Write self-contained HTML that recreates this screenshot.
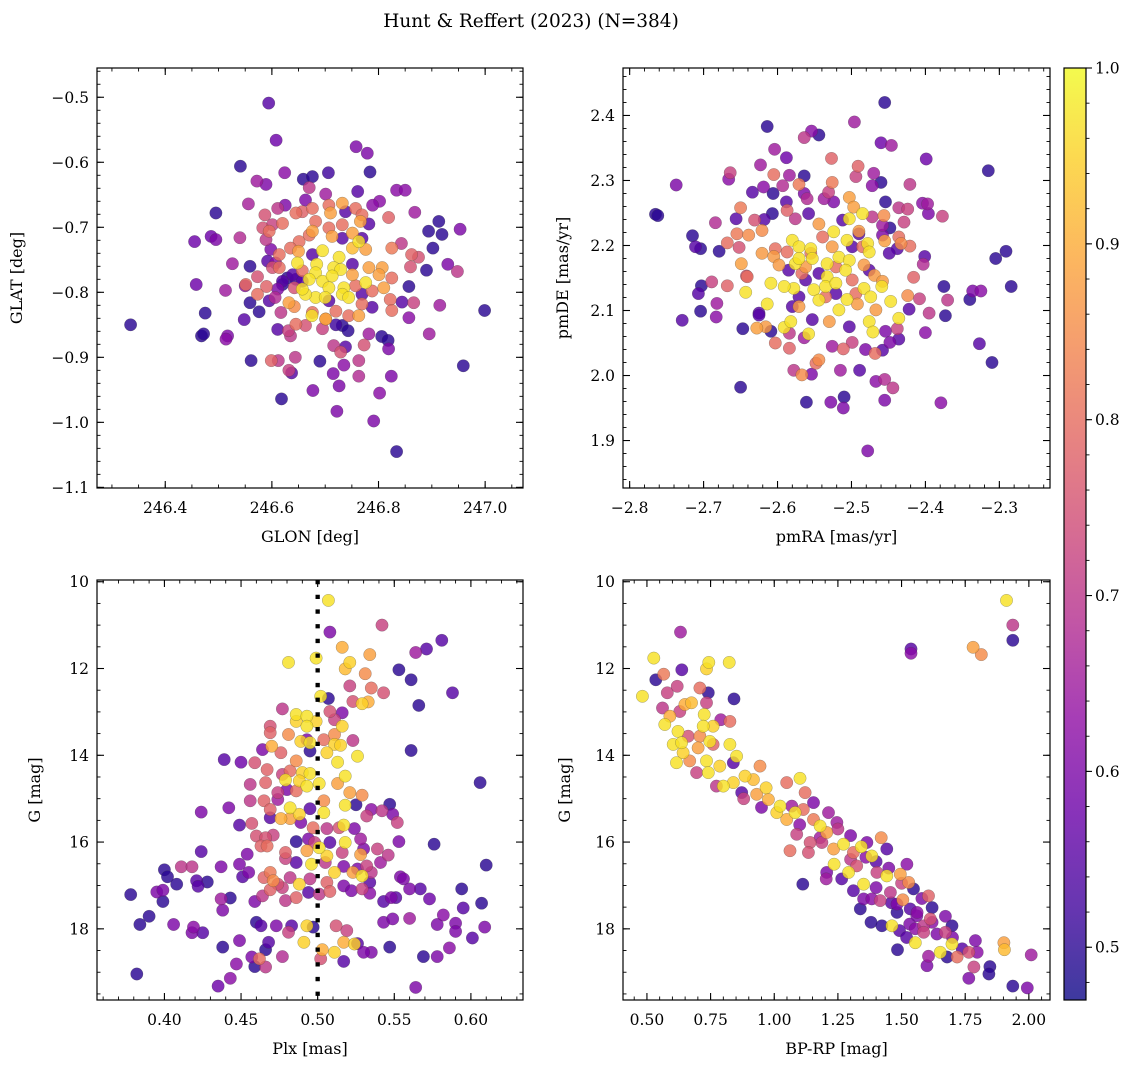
<!DOCTYPE html>
<html><head><meta charset="utf-8">
<style>
html,body{margin:0;padding:0;background:#fff;}
svg{display:block;font-family:"DejaVu Serif","Liberation Serif",serif;}
</style></head>
<body>
<svg id="fig" width="1136" height="1067" viewBox="0 0 1136 1067" xmlns="http://www.w3.org/2000/svg">
<rect width="1136" height="1067" fill="#fff"/>
<text x="531" y="27" font-size="18.5" text-anchor="middle">Hunt &amp; Reffert (2023) (N=384)</text>
</svg>
<script>
// ---- data: [x, y, membership probability] ----
const glonGlat = [
[246.335,-0.850,0.5],[246.594,-0.509,0.55],[246.608,-0.566,0.58],[246.758,-0.576,0.6],[246.779,-0.586,0.6],[246.541,-0.606,0.5],[246.784,-0.615,0.5],[246.624,-0.616,0.62],[246.659,-0.626,0.5],[246.676,-0.622,0.5],[246.706,-0.616,0.52],[246.572,-0.629,0.65],[246.589,-0.634,0.6],[246.834,-0.643,0.62],[246.850,-0.643,0.62],[246.761,-0.645,0.55],[246.701,-0.649,0.65],[246.670,-0.639,0.7],[246.556,-0.664,0.66],[246.495,-0.678,0.5],[246.625,-0.666,0.6],[246.611,-0.671,0.7],[246.802,-0.660,0.62],[246.789,-0.666,0.62],[246.868,-0.677,0.65],[246.913,-0.691,0.5],[246.953,-0.703,0.6],[246.894,-0.706,0.5],[246.919,-0.711,0.5],[246.819,-0.685,0.78],[246.587,-0.681,0.75],[246.455,-0.722,0.58],[246.486,-0.714,0.58],[246.495,-0.719,0.6],[246.540,-0.716,0.68],[246.902,-0.732,0.5],[246.843,-0.725,0.7],[246.825,-0.732,0.82],[246.862,-0.742,0.78],[246.875,-0.746,0.75],[246.930,-0.757,0.6],[246.948,-0.768,0.7],[246.890,-0.766,0.5],[246.526,-0.756,0.65],[246.559,-0.760,0.5],[246.860,-0.761,0.75],[246.825,-0.778,0.8],[246.857,-0.791,0.5],[246.458,-0.788,0.58],[246.513,-0.797,0.65],[246.550,-0.790,0.62],[246.559,-0.816,0.5],[246.576,-0.830,0.5],[246.475,-0.832,0.5],[246.468,-0.867,0.5],[246.472,-0.864,0.5],[246.514,-0.872,0.62],[246.517,-0.867,0.6],[246.548,-0.842,0.55],[246.999,-0.828,0.5],[246.915,-0.820,0.65],[246.866,-0.816,0.72],[246.844,-0.815,0.55],[246.857,-0.839,0.62],[246.895,-0.864,0.65],[246.959,-0.913,0.5],[246.611,-0.857,0.55],[246.635,-0.867,0.7],[246.631,-0.859,0.72],[246.644,-0.900,0.7],[246.599,-0.905,0.78],[246.612,-0.905,0.7],[246.561,-0.905,0.5],[246.632,-0.920,0.72],[246.637,-0.924,0.55],[246.618,-0.964,0.5],[246.690,-0.906,0.5],[246.677,-0.951,0.6],[246.715,-0.925,0.6],[246.726,-0.944,0.6],[246.735,-0.912,0.62],[246.763,-0.905,0.7],[246.763,-0.929,0.68],[246.824,-0.929,0.6],[246.802,-0.955,0.62],[246.722,-0.983,0.6],[246.791,-0.998,0.6],[246.834,-1.045,0.5],[246.806,-0.868,0.5],[246.818,-0.874,0.5],[246.819,-0.887,0.6],[246.782,-0.864,0.65],[246.773,-0.881,0.75],[246.738,-0.884,0.55],[246.729,-0.892,0.75],[246.716,-0.882,0.7],[246.732,-0.851,0.5],[246.743,-0.859,0.5],[246.720,-0.850,0.52],[246.663,-0.851,0.75],[246.695,-0.856,0.72],[246.701,-0.841,0.88],[246.675,-0.836,0.97],[246.632,-0.816,0.88],[246.642,-0.822,0.85],[246.617,-0.831,0.7],[246.606,-0.808,0.68],[246.611,-0.795,0.6],[246.620,-0.788,0.5],[246.629,-0.778,0.5],[246.645,-0.780,0.52],[246.642,-0.793,0.75],[246.573,-0.776,0.75],[246.590,-0.791,0.78],[246.601,-0.762,0.75],[246.592,-0.752,0.55],[246.607,-0.755,0.62],[246.598,-0.734,0.6],[246.583,-0.701,0.75],[246.601,-0.696,0.72],[246.589,-0.719,0.7],[246.663,-0.658,0.6],[246.657,-0.676,0.78],
[246.648,-0.755,0.97],[246.684,-0.757,0.97],[246.695,-0.736,0.97],[246.726,-0.746,0.97],[246.716,-0.762,0.97],[246.729,-0.765,0.97],[246.682,-0.770,0.97],[246.670,-0.780,0.97],[246.695,-0.783,0.97],[246.713,-0.775,0.97],[246.735,-0.793,0.97],[246.707,-0.793,0.97],[246.732,-0.803,0.97],[246.682,-0.808,0.97],[246.663,-0.803,0.97],[246.657,-0.795,0.97],[246.744,-0.808,0.97],[246.700,-0.808,0.97],[246.776,-0.785,0.97],[246.763,-0.722,0.97],[246.751,-0.732,0.92],
[246.676,-0.706,0.88],[246.710,-0.678,0.88],[246.732,-0.663,0.88],[246.766,-0.691,0.88],[246.751,-0.709,0.88],[246.776,-0.734,0.88],[246.782,-0.762,0.88],[246.807,-0.762,0.88],[246.810,-0.793,0.88],[246.763,-0.836,0.88],[246.701,-0.841,0.88],[246.650,-0.737,0.88],[246.713,-0.714,0.88],[246.751,-0.773,0.88],[246.801,-0.773,0.88],
[246.595,-0.706,0.8],[246.620,-0.694,0.8],[246.645,-0.678,0.8],[246.676,-0.671,0.8],[246.707,-0.666,0.8],[246.757,-0.671,0.8],[246.769,-0.681,0.8],[246.732,-0.696,0.8],[246.651,-0.722,0.8],[246.614,-0.742,0.8],[246.635,-0.732,0.8],[246.670,-0.712,0.8],[246.682,-0.691,0.8],[246.788,-0.798,0.8],[246.822,-0.811,0.8],[246.825,-0.828,0.8],[246.720,-0.829,0.8],[246.744,-0.836,0.8],[246.645,-0.849,0.8],[246.676,-0.831,0.8],[246.769,-0.818,0.8],[246.757,-0.790,0.8],[246.614,-0.762,0.8],[246.657,-0.767,0.8],[246.707,-0.701,0.8],[246.551,-0.788,0.8],[246.573,-0.803,0.8],
[246.738,-0.676,0.55],[246.782,-0.695,0.55],[246.769,-0.717,0.55],[246.732,-0.717,0.55],[246.751,-0.757,0.55],[246.769,-0.803,0.55],[246.788,-0.823,0.55],[246.639,-0.773,0.55],[246.657,-0.783,0.55],[246.620,-0.783,0.55],[246.707,-0.813,0.55],[246.595,-0.813,0.55],[246.676,-0.742,0.55]
];
const pmRaDe = [
[-2.455,2.420,0.5],[-2.496,2.390,0.65],[-2.614,2.383,0.5],[-2.554,2.376,0.62],[-2.544,2.370,0.5],[-2.564,2.366,0.7],[-2.460,2.358,0.58],[-2.446,2.354,0.65],[-2.604,2.348,0.65],[-2.588,2.335,0.58],[-2.527,2.334,0.78],[-2.399,2.333,0.58],[-2.315,2.315,0.5],[-2.623,2.324,0.65],[-2.664,2.312,0.72],[-2.666,2.302,0.62],[-2.605,2.309,0.8],[-2.584,2.308,0.65],[-2.564,2.307,0.5],[-2.737,2.293,0.6],[-2.491,2.322,0.78],[-2.494,2.306,0.72],[-2.470,2.311,0.65],[-2.460,2.297,0.5],[-2.472,2.292,0.62],[-2.421,2.294,0.7],[-2.634,2.282,0.55],[-2.619,2.290,0.62],[-2.606,2.280,0.5],[-2.593,2.292,0.68],[-2.571,2.294,0.82],[-2.564,2.280,0.6],[-2.526,2.297,0.82],[-2.531,2.282,0.72],[-2.537,2.272,0.65],[-2.560,2.272,0.68],[-2.765,2.248,0.5],[-2.762,2.246,0.5],[-2.650,2.258,0.82],[-2.656,2.241,0.55],[-2.631,2.239,0.75],[-2.618,2.240,0.55],[-2.607,2.249,0.5],[-2.588,2.267,0.55],[-2.587,2.254,0.78],[-2.576,2.241,0.7],[-2.558,2.249,0.55],[-2.524,2.267,0.6],[-2.503,2.274,0.88],[-2.497,2.259,0.88],[-2.454,2.267,0.5],[-2.436,2.258,0.7],[-2.424,2.256,0.72],[-2.404,2.265,0.62],[-2.397,2.264,0.65],[-2.396,2.249,0.6],[-2.377,2.245,0.72],[-2.456,2.246,0.85],[-2.458,2.231,0.65],[-2.472,2.244,0.7],[-2.448,2.227,0.5],[-2.429,2.236,0.72],[-2.684,2.235,0.68],[-2.715,2.215,0.5],[-2.711,2.198,0.55],[-2.704,2.195,0.5],[-2.679,2.191,0.5],[-2.668,2.204,0.8],[-2.655,2.218,0.82],[-2.652,2.197,0.75],[-2.639,2.216,0.85],[-2.621,2.223,0.85],[-2.649,2.172,0.88],[-2.642,2.153,0.75],[-2.291,2.191,0.5],[-2.305,2.180,0.5],[-2.284,2.137,0.5],[-2.375,2.137,0.5],[-2.336,2.130,0.6],[-2.325,2.130,0.62],[-2.340,2.117,0.5],[-2.370,2.116,0.7],[-2.373,2.092,0.5],[-2.395,2.096,0.7],[-2.400,2.066,0.62],[-2.327,2.049,0.55],[-2.310,2.020,0.5],[-2.379,1.958,0.62],[-2.401,2.183,0.55],[-2.403,2.171,0.68],[-2.416,2.151,0.78],[-2.424,2.123,0.85],[-2.408,2.118,0.72],[-2.422,2.102,0.55],[-2.436,2.213,0.8],[-2.433,2.203,0.85],[-2.421,2.199,0.8],[-2.438,2.195,0.55],[-2.455,2.207,0.88],[-2.458,2.216,0.6],[-2.689,2.144,0.72],[-2.703,2.138,0.5],[-2.707,2.126,0.55],[-2.668,2.138,0.78],[-2.682,2.111,0.65],[-2.704,2.099,0.5],[-2.729,2.085,0.55],[-2.683,2.090,0.62],[-2.647,2.072,0.5],[-2.628,2.073,0.88],[-2.625,2.096,0.55],[-2.609,2.068,0.5],[-2.603,2.050,0.8],[-2.584,2.042,0.78],[-2.650,1.982,0.5],[-2.578,2.008,0.7],[-2.567,2.001,0.85],[-2.561,1.959,0.5],[-2.554,2.002,0.6],[-2.544,2.024,0.85],[-2.548,2.019,0.8],[-2.528,1.959,0.6],[-2.510,1.967,0.5],[-2.511,1.950,0.6],[-2.515,2.008,0.65],[-2.489,2.008,0.55],[-2.467,1.991,0.62],[-2.455,1.994,0.68],[-2.444,1.981,0.7],[-2.455,1.962,0.6],[-2.478,1.884,0.6],[-2.468,2.034,0.8],[-2.481,2.040,0.6],[-2.454,2.068,0.6],[-2.438,2.072,0.72],[-2.436,2.056,0.55],[-2.448,2.051,0.6],[-2.458,2.039,0.55],[-2.511,2.041,0.78],[-2.526,2.045,0.65],[-2.499,2.051,0.72],[-2.584,2.065,0.7],[-2.564,2.058,0.65],
[-2.580,2.208,0.97],[-2.571,2.198,0.97],[-2.555,2.195,0.97],[-2.576,2.172,0.97],[-2.553,2.180,0.97],[-2.533,2.172,0.97],[-2.517,2.182,0.97],[-2.524,2.221,0.97],[-2.503,2.241,0.97],[-2.485,2.249,0.97],[-2.503,2.177,0.97],[-2.533,2.152,0.97],[-2.535,2.137,0.97],[-2.551,2.132,0.97],[-2.544,2.116,0.97],[-2.521,2.142,0.97],[-2.508,2.162,0.97],[-2.578,2.134,0.97],[-2.591,2.137,0.97],[-2.609,2.142,0.97],[-2.643,2.128,0.97],[-2.614,2.110,0.97],[-2.591,2.074,0.97],[-2.582,2.083,0.97],[-2.558,2.064,0.97],[-2.517,2.101,0.97],[-2.506,2.117,0.97],[-2.483,2.134,0.97],[-2.474,2.121,0.97],[-2.459,2.137,0.97],[-2.447,2.114,0.97],[-2.436,2.088,0.97],[-2.476,2.083,0.97],[-2.471,2.067,0.97],[-2.478,2.203,0.97],[-2.476,2.190,0.97],[-2.506,2.208,0.97],[-2.571,2.180,0.97],
[-2.621,2.188,0.87],[-2.605,2.183,0.87],[-2.598,2.170,0.87],[-2.562,2.167,0.87],[-2.544,2.233,0.87],[-2.490,2.222,0.87],[-2.483,2.170,0.87],[-2.469,2.154,0.87],[-2.458,2.145,0.87],[-2.492,2.110,0.87],[-2.467,2.101,0.87],[-2.530,2.083,0.87],[-2.616,2.075,0.87],[-2.571,2.106,0.87],[-2.526,2.198,0.87],
[-2.641,2.152,0.8],[-2.603,2.195,0.8],[-2.587,2.190,0.8],[-2.535,2.121,0.8],[-2.499,2.147,0.8],[-2.521,2.167,0.8],[-2.567,2.157,0.8],[-2.485,2.198,0.8],[-2.539,2.213,0.8],[-2.494,2.126,0.8],[-2.555,2.188,0.8],
[-2.585,2.162,0.55],[-2.562,2.147,0.55],[-2.544,2.157,0.55],[-2.512,2.239,0.55],[-2.499,2.198,0.55],[-2.521,2.126,0.55],[-2.571,2.121,0.55],[-2.503,2.075,0.55],[-2.553,2.086,0.55],[-2.625,2.093,0.55],[-2.580,2.106,0.55],[-2.449,2.188,0.55],[-2.476,2.162,0.55],[-2.490,2.218,0.55]
];
const plxG = [
[0.507,10.43,0.97],[0.508,11.16,0.6],[0.542,11.00,0.72],[0.581,11.35,0.55],[0.571,11.55,0.55],[0.564,11.63,0.65],[0.516,11.51,0.9],[0.534,11.68,0.88],[0.521,11.86,0.95],[0.518,12.01,0.92],[0.481,11.86,0.97],[0.499,11.76,0.97],[0.553,12.03,0.5],[0.561,12.26,0.5],[0.531,12.12,0.85],[0.521,12.40,0.72],[0.535,12.45,0.8],[0.543,12.56,0.75],[0.588,12.56,0.55],[0.566,12.85,0.5],[0.502,12.64,0.97],[0.507,12.69,0.5],[0.529,12.81,0.95],[0.533,12.77,0.9],[0.523,12.76,0.75],[0.477,12.93,0.7],[0.486,13.06,0.97],[0.493,13.10,0.97],[0.486,13.22,0.95],[0.493,13.33,0.97],[0.499,13.22,0.95],[0.508,12.99,0.75],[0.516,13.02,0.6],[0.511,13.18,0.72],[0.516,13.33,0.95],[0.469,13.48,0.78],[0.469,13.33,0.75],[0.481,13.52,0.85],[0.493,13.64,0.6],[0.489,13.68,0.95],[0.495,13.71,0.97],[0.504,13.64,0.8],[0.511,13.52,0.85],[0.511,13.75,0.95],[0.515,13.77,0.95],[0.523,13.66,0.7],[0.526,14.02,0.97],[0.561,13.89,0.5],[0.464,13.87,0.6],[0.470,13.79,0.9],[0.476,13.94,0.78],[0.486,14.13,0.85],[0.495,13.90,0.5],[0.506,13.94,0.95],[0.513,14.16,0.97],[0.439,14.10,0.55],[0.450,14.16,0.58],[0.459,14.17,0.75],[0.467,14.33,0.78],[0.477,14.44,0.72],[0.482,14.36,0.8],[0.490,14.40,0.95],[0.495,14.42,0.97],[0.488,14.59,0.95],[0.479,14.57,0.97],[0.493,14.71,0.97],[0.501,14.65,0.97],[0.513,14.65,0.88],[0.518,14.48,0.97],[0.521,14.86,0.88],[0.529,14.92,0.85],[0.606,14.63,0.5],[0.456,14.67,0.7],[0.466,14.63,0.78],[0.474,14.86,0.72],[0.480,14.79,0.6],[0.486,14.82,0.8],[0.424,15.31,0.6],[0.442,15.21,0.6],[0.456,15.05,0.7],[0.465,15.05,0.78],[0.469,15.25,0.78],[0.474,15.02,0.65],[0.482,15.21,0.97],[0.488,15.36,0.95],[0.495,15.23,0.55],[0.504,15.05,0.85],[0.504,15.32,0.97],[0.518,15.15,0.97],[0.525,15.14,0.5],[0.535,15.25,0.62],[0.542,15.28,0.7],[0.547,15.13,0.5],[0.549,15.36,0.6],[0.449,15.61,0.55],[0.457,15.57,0.75],[0.469,15.44,0.55],[0.476,15.46,0.9],[0.482,15.46,0.88],[0.489,15.55,0.6],[0.497,15.67,0.8],[0.506,15.69,0.7],[0.514,15.67,0.75],[0.517,15.61,0.97],[0.524,15.69,0.6],[0.532,15.40,0.72],[0.552,15.55,0.72],[0.460,15.86,0.75],[0.466,15.90,0.75],[0.471,15.84,0.72],[0.463,16.09,0.78],[0.467,16.09,0.8],[0.486,15.99,0.5],[0.494,15.93,0.6],[0.498,16.01,0.72],[0.508,16.01,0.55],[0.518,16.01,0.97],[0.528,15.93,0.65],[0.530,16.16,0.6],[0.539,16.16,0.72],[0.553,15.99,0.6],[0.576,16.05,0.5],[0.424,16.22,0.55],[0.454,16.28,0.6],[0.479,16.24,0.78],[0.493,16.20,0.88],[0.501,16.13,0.97],[0.506,16.32,0.95],[0.516,16.24,0.72],[0.528,16.29,0.88],[0.546,16.30,0.7],[0.610,16.53,0.5],[0.400,16.64,0.5],[0.411,16.57,0.7],[0.418,16.57,0.7],[0.437,16.57,0.6],[0.449,16.51,0.6],[0.479,16.38,0.72],[0.486,16.47,0.55],[0.496,16.51,0.97],[0.505,16.47,0.7],[0.517,16.56,0.6],[0.526,16.62,0.6],[0.532,16.55,0.72],[0.541,16.47,0.65],[0.402,16.80,0.5],[0.408,16.97,0.5],[0.421,16.89,0.55],[0.428,16.92,0.5],[0.422,17.02,0.55],[0.451,16.80,0.55],[0.455,16.70,0.6],[0.465,16.82,0.78],[0.469,16.70,0.82],[0.471,16.89,0.85],[0.474,16.97,0.75],[0.482,16.82,0.7],[0.488,16.97,0.95],[0.495,16.85,0.7],[0.506,16.93,0.78],[0.511,16.70,0.95],[0.523,16.70,0.88],[0.529,16.78,0.97],[0.535,16.70,0.7],[0.534,16.93,0.55],[0.554,16.80,0.6],[0.556,16.85,0.6],[0.378,17.21,0.5],[0.395,17.15,0.6],[0.399,17.11,0.6],[0.399,17.37,0.5],[0.437,17.31,0.65],[0.438,17.57,0.6],[0.443,17.29,0.5],[0.459,17.37,0.6],[0.464,17.24,0.7],[0.469,17.10,0.78],[0.477,17.05,0.72],[0.479,17.35,0.7],[0.486,17.28,0.78],[0.494,17.16,0.55],[0.501,17.20,0.7],[0.508,17.14,0.78],[0.517,17.01,0.6],[0.522,17.12,0.6],[0.529,17.08,0.72],[0.534,17.18,0.62],[0.543,17.37,0.55],[0.548,17.28,0.6],[0.551,17.28,0.55],[0.560,17.08,0.6],[0.567,17.08,0.55],[0.573,17.31,0.58],[0.594,17.08,0.5],[0.607,17.41,0.5],[0.384,17.90,0.5],[0.390,17.71,0.5],[0.406,17.90,0.6],[0.418,18.09,0.6],[0.419,17.96,0.62],[0.425,18.09,0.55],[0.449,18.27,0.6],[0.438,18.42,0.5],[0.460,17.85,0.5],[0.463,17.93,0.55],[0.468,18.31,0.55],[0.466,18.48,0.5],[0.473,17.93,0.6],[0.481,18.08,0.72],[0.483,17.93,0.55],[0.491,18.31,0.95],[0.493,17.93,0.95],[0.497,17.96,0.5],[0.503,18.48,0.9],[0.511,18.54,0.95],[0.512,17.93,0.75],[0.517,18.31,0.9],[0.519,18.04,0.72],[0.524,18.35,0.95],[0.526,18.34,0.55],[0.535,18.54,0.6],[0.543,17.85,0.6],[0.547,18.42,0.5],[0.549,17.77,0.6],[0.560,17.76,0.65],[0.569,18.64,0.5],[0.578,18.64,0.6],[0.578,17.90,0.6],[0.582,17.68,0.62],[0.586,18.44,0.62],[0.590,17.87,0.6],[0.590,18.06,0.6],[0.595,17.52,0.55],[0.601,18.21,0.55],[0.609,17.96,0.6],[0.382,19.04,0.5],[0.435,19.32,0.58],[0.443,19.14,0.62],[0.447,18.81,0.62],[0.457,18.65,0.6],[0.459,18.87,0.5],[0.462,18.69,0.8],[0.466,18.88,0.7],[0.477,18.64,0.68],[0.502,18.69,0.75],[0.517,18.75,0.55],[0.530,18.54,0.6],[0.564,19.35,0.6]
];
const bprpG = [
[1.912,10.43,0.97],[1.937,11.00,0.7],[1.937,11.35,0.5],[1.537,11.55,0.55],[1.537,11.65,0.62],[1.781,11.51,0.88],[1.813,11.68,0.85],[0.632,11.16,0.65],[0.527,11.76,0.97],[0.743,11.86,0.97],[0.734,12.01,0.95],[0.823,11.86,0.97],[0.637,12.03,0.55],[0.566,12.13,0.82],[0.535,12.26,0.5],[0.482,12.64,0.97],[0.580,12.56,0.72],[0.619,12.41,0.72],[0.708,12.45,0.8],[0.741,12.56,0.5],[0.734,12.79,0.72],[0.842,12.70,0.5],[0.561,12.91,0.7],[0.649,12.83,0.9],[0.675,12.79,0.92],[0.590,13.10,0.9],[0.570,13.29,0.97],[0.629,12.99,0.72],[0.725,13.06,0.97],[0.790,13.18,0.65],[0.826,13.22,0.8],[0.760,13.33,0.95],[0.721,13.33,0.97],[0.622,13.45,0.97],[0.662,13.56,0.75],[0.708,13.56,0.85],[0.747,13.68,0.97],[0.603,13.75,0.97],[0.636,13.71,0.97],[0.642,13.94,0.95],[0.701,13.83,0.88],[0.760,13.75,0.78],[0.826,13.75,0.97],[0.852,14.02,0.97],[0.616,14.17,0.97],[0.668,14.13,0.85],[0.734,14.13,0.97],[0.786,14.25,0.95],[0.839,14.17,0.55],[0.695,14.40,0.72],[0.741,14.40,0.97],[0.773,14.71,0.7],[0.800,14.71,0.97],[0.839,14.63,0.95],[0.885,14.48,0.95],[0.918,14.56,0.92],[0.944,14.25,0.85],[0.872,14.86,0.55],[0.931,14.90,0.88],[0.968,14.75,0.95],[0.977,15.02,0.9],[1.023,15.17,0.97],[1.010,15.32,0.95],[1.049,14.63,0.8],[1.101,14.53,0.97],[1.082,15.32,0.97],[1.049,15.48,0.9],[1.121,14.86,0.8],[1.069,15.17,0.65],[1.114,15.25,0.8],[1.154,15.09,0.6],[1.213,15.32,0.65],[1.180,15.63,0.97],[1.154,15.48,0.82],[1.206,15.78,0.88],[1.246,15.55,0.65],[1.088,15.82,0.72],[1.141,16.01,0.75],[1.062,16.20,0.8],[1.134,16.24,0.75],[1.187,16.01,0.72],[1.233,16.16,0.88],[1.272,16.05,0.97],[1.311,16.24,0.8],[1.342,16.11,0.97],[1.383,16.32,0.97],[1.420,15.90,0.85],[1.364,16.01,0.6],[1.442,16.16,0.55],[1.235,16.51,0.97],[1.292,16.70,0.97],[1.324,16.55,0.75],[1.265,16.85,0.55],[1.206,16.70,0.6],[1.204,16.85,0.65],[1.351,16.97,0.97],[1.403,16.70,0.72],[1.442,16.78,0.97],[1.495,16.74,0.88],[1.521,16.51,0.62],[1.547,17.08,0.5],[1.528,16.93,0.85],[1.112,16.97,0.5],[1.311,17.12,0.55],[1.351,17.31,0.6],[1.383,17.31,0.62],[1.416,17.35,0.72],[1.456,17.16,0.7],[1.482,17.43,0.6],[1.505,17.33,0.85],[1.482,17.62,0.5],[1.534,17.54,0.55],[1.561,17.62,0.62],[1.606,17.24,0.78],[1.620,17.51,0.5],[1.338,17.54,0.5],[1.380,17.85,0.5],[1.423,17.93,0.5],[1.462,17.93,0.97],[1.492,18.04,0.55],[1.532,17.89,0.6],[1.554,18.00,0.62],[1.587,17.93,0.7],[1.613,17.77,0.75],[1.672,17.71,0.6],[1.698,17.93,0.5],[1.587,18.08,0.72],[1.639,18.12,0.6],[1.672,18.08,0.72],[1.554,18.32,0.97],[1.484,18.48,0.5],[1.698,18.35,0.97],[1.652,18.54,0.97],[1.679,18.65,0.5],[1.718,18.65,0.8],[1.738,18.46,0.55],[1.764,18.54,0.75],[1.790,18.27,0.6],[1.797,18.54,0.62],[1.784,18.88,0.72],[1.606,18.63,0.65],[1.600,18.85,0.6],[1.764,19.14,0.6],[1.847,18.87,0.5],[1.843,19.04,0.5],[1.902,18.32,0.88],[1.904,18.48,0.92],[2.009,18.60,0.65],[1.937,19.32,0.5],[1.994,19.36,0.6],
[1.25,15.70,0.7],[1.30,15.85,0.6],[1.36,16.35,0.62],[1.40,16.45,0.55],[1.45,16.60,0.6],[1.50,16.95,0.72],[1.40,17.05,0.6],[1.46,17.40,0.55],[1.58,17.30,0.6],[1.62,17.85,0.62],[1.70,18.20,0.6],[1.52,18.20,0.55],[1.18,15.90,0.65],[1.10,15.60,0.62],[0.95,15.20,0.6],[0.88,15.00,0.72],[1.30,16.40,0.7],[1.56,17.70,0.6]
];
// tick label arrays
const glonTicks = [246.4, 246.6, 246.8, 247.0];
const glatTicks = [-0.5, -0.6, -0.7, -0.8, -0.9, -1.0, -1.1];
const pmraTicks = [-2.8, -2.7, -2.6, -2.5, -2.4, -2.3];
const pmdeTicks = [1.9, 2.0, 2.1, 2.2, 2.3, 2.4];
const plxTicks = [0.40, 0.45, 0.50, 0.55, 0.60];
const gTicks = [10, 12, 14, 16, 18];
const bprpTicks = [0.50, 0.75, 1.00, 1.25, 1.50, 1.75, 2.00];
const cbarTicks = [0.5, 0.6, 0.7, 0.8, 0.9, 1.0];
const plxReference = [0.50];
const probRange = [0.47, 1.0];

const NS = 'http://www.w3.org/2000/svg';
const svg = document.getElementById('fig');
const plasma = ['#0d0887','#41049d','#6a00a8','#8f0da4','#b12a90','#cc4778','#e16462','#f2844b','#fca636','#fcce25','#f0f921'];
function hex(h){return [parseInt(h.substr(1,2),16),parseInt(h.substr(3,2),16),parseInt(h.substr(5,2),16)];}
function cmap(p){
  let t=(p-probRange[0])/(probRange[1]-probRange[0]); t=Math.max(0,Math.min(1,t));
  const f=t*10, i=Math.min(9,Math.floor(f)), u=f-i;
  const a=hex(plasma[i]), b=hex(plasma[i+1]);
  return 'rgb('+a.map((v,k)=>Math.round(v+(b[k]-v)*u)).join(',')+')';
}
function mk(tag, attrs, parent){
  const e=document.createElementNS(NS,tag);
  for(const k in attrs) e.setAttribute(k, attrs[k]);
  (parent||svg).appendChild(e); return e;
}
function fmt(v, d){ const s=Math.abs(v).toFixed(d); return (v<0?'\u2212':'')+s; }
const TF=15.5;

function panel(o){
  const g=mk('g',{});
  
  
  const W=o.r-o.l, H=o.b-o.t;
  const sx=v=>o.l+(v-o.xd[0])/(o.xd[1]-o.xd[0])*W;
  const sy=v=>o.t+(v-o.yd[0])/(o.yd[1]-o.yd[0])*H;
  const xmn=Math.min(o.xd[0],o.xd[1]), xmx=Math.max(o.xd[0],o.xd[1]);
  for(let i=Math.ceil(xmn/o.xMinor-1e-6); i*o.xMinor<=xmx+1e-9; i++){
    const x=sx(i*o.xMinor);
    mk('line',{x1:x,x2:x,y1:o.b,y2:o.b-3.5,stroke:'#000','stroke-width':0.9},g);
    mk('line',{x1:x,x2:x,y1:o.t,y2:o.t+3.5,stroke:'#000','stroke-width':0.9},g);
  }
  const ymn=Math.min(o.yd[0],o.yd[1]), ymx=Math.max(o.yd[0],o.yd[1]);
  for(let i=Math.ceil(ymn/o.yMinor-1e-6); i*o.yMinor<=ymx+1e-9; i++){
    const y=sy(i*o.yMinor);
    mk('line',{x1:o.l,x2:o.l+3.5,y1:y,y2:y,stroke:'#000','stroke-width':0.9},g);
    mk('line',{x1:o.r,x2:o.r-3.5,y1:y,y2:y,stroke:'#000','stroke-width':0.9},g);
  }
  o.xTicks.forEach(v=>{
    const x=sx(v);
    mk('line',{x1:x,x2:x,y1:o.b,y2:o.b-7,stroke:'#000','stroke-width':1.1},g);
    mk('line',{x1:x,x2:x,y1:o.t,y2:o.t+7,stroke:'#000','stroke-width':1.1},g);
    const t=mk('text',{x:x,y:o.b+25,'font-size':TF,'text-anchor':'middle'},g);
    
    
    t.textContent=fmt(v,o.xDec);
  });
  o.yTicks.forEach(v=>{
    const y=sy(v);
    mk('line',{x1:o.l,x2:o.l+7,y1:y,y2:y,stroke:'#000','stroke-width':1.1},g);
    mk('line',{x1:o.r,x2:o.r-7,y1:y,y2:y,stroke:'#000','stroke-width':1.1},g);
    const t=mk('text',{x:o.l-8,y:y+5.5,'font-size':TF,'text-anchor':'end'},g);
    
    
    t.textContent=fmt(v,o.yDec);
  });
  const pts=o.data.slice().sort((a,b)=>a[2]-b[2]);
  const pg=mk('g',{},g);
  
  
  pts.forEach(p=>{
    const c=mk('circle',{cx:sx(p[0]).toFixed(1),cy:sy(p[1]).toFixed(1),r:6.2,fill:cmap(p[2]),'fill-opacity':0.82,stroke:'rgba(60,60,60,0.45)','stroke-width':0.5},pg);
    
    
  });
  if(o.vline){
    o.vline.forEach(v=>{
      const l=mk('line',{x1:sx(v),x2:sx(v),y1:o.t,y2:o.b,stroke:'#000','stroke-width':4.3,'stroke-dasharray':'4.3 10.4'},g);
      
      
    });
  }
  const fr=mk('rect',{x:o.l,y:o.t,width:W,height:H,fill:'none',stroke:'#000','stroke-width':1.2},g);
  
  
  const xl=mk('text',{x:(o.l+o.r)/2,y:o.b+54,'font-size':16,'text-anchor':'middle'},g);
  
  
  xl.textContent=o.xlabel;
  const yx=o.ylx, yy=(o.t+o.b)/2;
  const yl=mk('text',{x:yx,y:yy,'font-size':16,'text-anchor':'middle',transform:'rotate(-90 '+yx+' '+yy+')'},g);
  
  
  yl.textContent=o.ylabel;
}

panel({name:'glon-glat-panel',l:97,t:68,r:523,b:488,xd:[246.272,247.071],yd:[-0.455,-1.101],xTicks:glonTicks,yTicks:glatTicks,xMinor:0.05,yMinor:0.02,xDec:1,yDec:1,data:glonGlat,xlabel:'GLON [deg]',ylabel:'GLAT [deg]',ylx:22});
panel({name:'pm-panel',l:623,t:68,r:1050,b:488,xd:[-2.809,-2.2315],yd:[2.473,1.827],xTicks:pmraTicks,yTicks:pmdeTicks,xMinor:0.02,yMinor:0.02,xDec:1,yDec:1,data:pmRaDe,xlabel:'pmRA [mas/yr]',ylabel:'pmDE [mas/yr]',ylx:568});
panel({name:'plx-g-panel',l:97,t:580,r:523,b:1000,xd:[0.356,0.634],yd:[9.96,19.64],xTicks:plxTicks,yTicks:gTicks,xMinor:0.01,yMinor:0.5,xDec:2,yDec:0,data:plxG,xlabel:'Plx [mas]',ylabel:'G [mag]',ylx:40,vline:plxReference});
panel({name:'cmd-panel',l:623,t:580,r:1050,b:1000,xd:[0.406,2.083],yd:[9.96,19.64],xTicks:bprpTicks,yTicks:gTicks,xMinor:0.05,yMinor:0.5,xDec:2,yDec:0,data:bprpG,xlabel:'BP-RP [mag]',ylabel:'G [mag]',ylx:570});

(function(){
  const L=1064,R=1086,T=68,B=1000;
  const g=mk('g',{});
  
  
  const defs=mk('defs',{},g);
  const lg=mk('linearGradient',{id:'cbg',x1:0,y1:1,x2:0,y2:0},defs);
  plasma.forEach((c,i)=>mk('stop',{offset:(i/10),'stop-color':c},lg));
  mk('rect',{x:L,y:T,width:R-L,height:B-T,fill:'url(#cbg)','fill-opacity':0.8},g);
  const sy=v=>B-(v-probRange[0])/(probRange[1]-probRange[0])*(B-T);
  for(let i=Math.ceil(probRange[0]/0.02-1e-6); i*0.02<=probRange[1]+1e-9; i++){
    const y=sy(i*0.02);
    mk('line',{x1:R,x2:R+3.5,y1:y,y2:y,stroke:'#000','stroke-width':0.9},g);
  }
  cbarTicks.forEach(v=>{
    const y=sy(v);
    mk('line',{x1:R,x2:R+6,y1:y,y2:y,stroke:'#000','stroke-width':1.1},g);
    const t=mk('text',{x:R+9,y:y+5.5,'font-size':TF},g);
    
    
    t.textContent=v.toFixed(1);
  });
  mk('rect',{x:L,y:T,width:R-L,height:B-T,fill:'none',stroke:'#000','stroke-width':1.2},g);
})();
</script>
</body></html>
